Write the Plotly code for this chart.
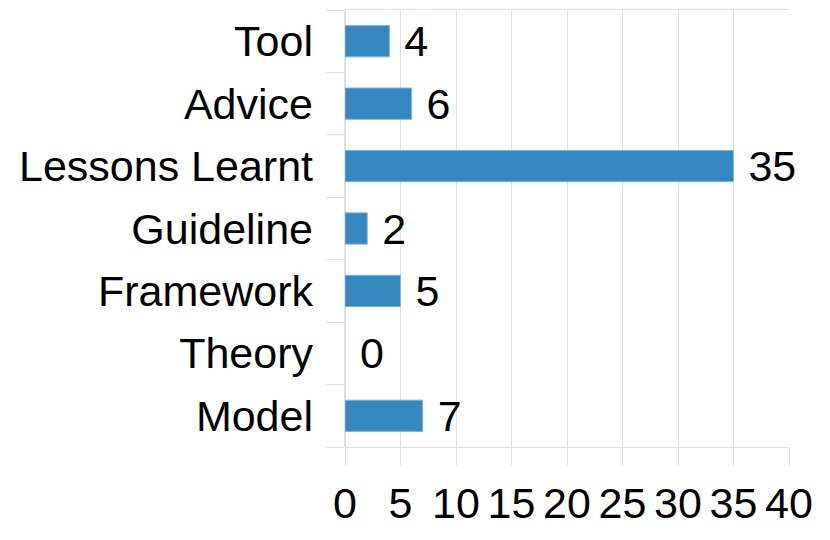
import plotly.graph_objects as go

categories = ["Tool", "Advice", "Lessons Learnt", "Guideline", "Framework", "Theory", "Model"]
counts = [4, 6, 35, 2, 5, 0, 7]
x_ticks = [0, 5, 10, 15, 20, 25, 30, 35, 40]

FONT = "Liberation Sans, Arial, sans-serif"
GRID = "#e0e0e0"
SIZE = 43

fig = go.Figure(go.Bar(
    y=categories,
    x=counts,
    orientation="h",
    marker=dict(
        color="#3488bf",
        line=dict(color="#7fb3dc", width=[1 if v > 0 else 0 for v in counts]),
    ),
    text=[" " + str(v) for v in counts],
    textposition="outside",
    textfont=dict(family=FONT, size=SIZE, color="black"),
    constraintext="none",
    cliponaxis=False,
))

# page body adds an 8px offset, margins account for it
fig.update_layout(
    width=830,
    height=540,
    margin=dict(l=337, r=49, t=2, b=101),
    plot_bgcolor="white",
    paper_bgcolor="white",
    bargap=0.5,
    showlegend=False,
    font=dict(family=FONT, size=SIZE, color="black"),
    xaxis=dict(
        range=[0, 40],
        tickvals=x_ticks,
        automargin=False,
        showgrid=True,
        gridcolor=GRID,
        zeroline=True,
        zerolinecolor=GRID,
        showline=True,
        mirror=True,
        linecolor=GRID,
        ticks="outside",
        ticklen=18,
        tickcolor=GRID,
        tickfont=dict(size=SIZE, color="black"),
    ),
    yaxis=dict(
        categoryorder="array",
        categoryarray=categories[::-1],
        automargin=False,
        tickson="boundaries",
        ticks="outside",
        ticklen=18,
        tickcolor=GRID,
        showgrid=False,
        ticklabelstandoff=31,
        tickfont=dict(size=SIZE, color="black"),
    ),
)

fig.write_html("out.html")
